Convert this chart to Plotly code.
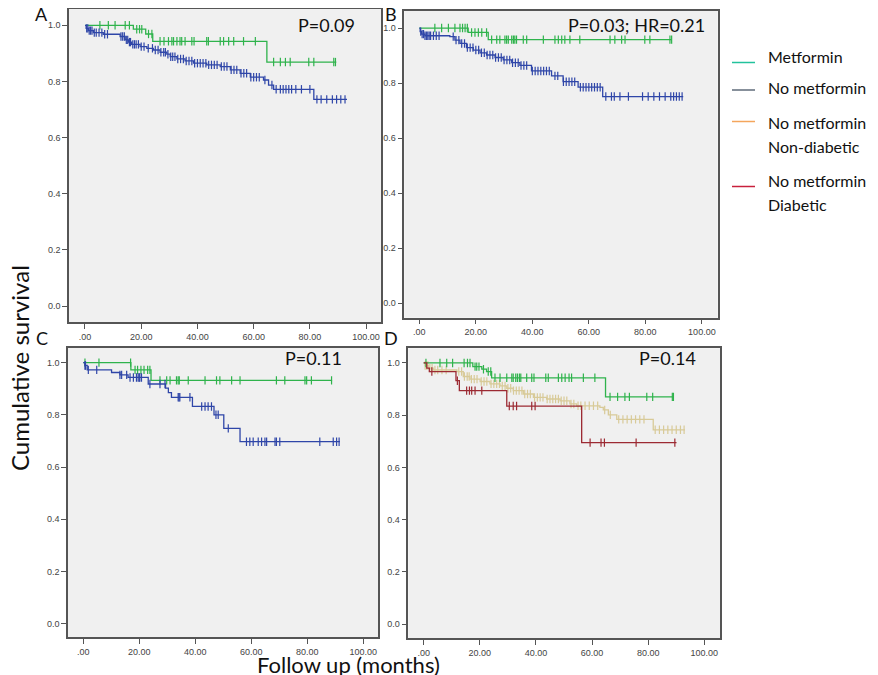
import numpy as np
import plotly.graph_objects as go

W, H = 878, 675
OFF = 8  # default page margin of the browser body
FW, FH = W - OFF, H - OFF

# ---------------- data ----------------
x_tick_vals = [0, 20, 40, 60, 80, 100]
x_tick_text = [".00", "20.00", "40.00", "60.00", "80.00", "100.00"]
y_tick_vals = [0, 0.2, 0.4, 0.6, 0.8, 1.0]
y_tick_text = ["0.0", "0.2", "0.4", "0.6", "0.8", "1.0"]

panel_letters = ["A", "B", "C", "D"]
panel_pvalues = ["P=0.09", "P=0.03; HR=0.21", "P=0.11", "P=0.14"]

legend_labels = [["Metformin"], ["No metformin"], ["No metformin", "Non-diabetic"], ["No metformin", "Diabetic"]]

# Panel A
A_met_t = [0, 17.2, 21.6, 24.1, 64.7, 89.4]
A_met_s = [1.0, 0.986, 0.969, 0.943, 0.869, 0.869]
A_met_c = [5.3, 8.3, 10.7, 14.3, 15.8, 18.4, 19.4, 20.2, 22.6, 23.8, 26.7, 28.1, 29.7, 30.9, 31.5,
           32.7, 33.8, 34.4, 35.6, 38.0, 38.8, 43.3, 43.9, 48.1, 49.3, 51.1, 52.9, 56.4, 60.6,
           67.1, 69.5, 71.3, 73.0, 79.6, 81.4, 88.5, 89.1]
A_nomet_t = [0, 0.4, 1.2, 3.0, 6.5, 12.5, 14.3, 15.5, 16.6, 19.6, 22.0, 24.3, 26.7, 29.1, 30.3, 32.7,
             35.6, 38.6, 43.3, 48.1, 51.7, 55.2, 58.8, 63.5, 65.3, 67.1, 81.4, 93.2]
A_nomet_s = [1.0, 0.989, 0.981, 0.974, 0.968, 0.960, 0.948, 0.940, 0.932, 0.924, 0.918, 0.912, 0.904,
             0.897, 0.888, 0.880, 0.873, 0.865, 0.859, 0.853, 0.841, 0.829, 0.815, 0.805, 0.787, 0.772,
             0.736, 0.736]
A_nomet_c = [0.6, 1.0, 1.5, 2.0, 2.5, 3.3, 4.0, 5.0, 6.0, 7.0, 8.0, 12.8, 13.4, 14.0, 14.7, 15.2, 15.8,
             16.2, 17.0, 17.6, 18.2, 19.0, 20.0, 21.0, 22.5, 24.0, 25.0, 26.0, 27.0, 28.0, 28.6, 29.5,
             30.5, 31.2, 32.0, 33.0, 34.0, 35.0, 36.0, 37.0, 38.0, 39.0, 40.0, 41.0, 42.0, 43.0, 44.0,
             45.0, 46.0, 47.0, 48.5, 49.5, 50.5, 52.0, 53.0, 54.0, 55.5, 56.5, 57.5, 59.0, 60.0, 61.0,
             62.0, 64.0, 66.5, 68.0, 69.5, 70.5, 71.5, 72.5, 73.5, 75.0, 77.0, 80.0, 82.5, 84.0, 86.0,
             88.0, 89.5, 91.0, 92.5]

# Panel B
B_met_t = [0, 17.3, 24.4, 89.3]
B_met_s = [1.0, 0.984, 0.958, 0.958]
B_met_c = [5.5, 7.9, 10.3, 12.6, 14.4, 15.3, 16.2, 17.0, 18.5, 19.7, 20.9, 22.1, 23.8, 25.6, 27.4,
           28.5, 30.3, 30.9, 31.5, 32.7, 33.3, 33.8, 34.4, 36.8, 38.0, 43.9, 48.0, 49.2, 50.4, 51.5,
           53.3, 56.8, 67.5, 69.2, 71.6, 72.8, 79.8, 81.6, 88.7, 89.3]
B_nomet_t = [0, 0.3, 0.8, 2.0, 10.8, 12.6, 14.4, 16.7, 19.1, 21.5, 23.8, 26.8, 29.7, 32.7, 35.6, 39.7,
             46.8, 50.9, 56.2, 64.9, 93.4]
B_nomet_s = [1.0, 0.987, 0.978, 0.972, 0.969, 0.956, 0.944, 0.929, 0.920, 0.910, 0.902, 0.893, 0.884,
             0.874, 0.864, 0.844, 0.826, 0.805, 0.785, 0.751, 0.751]
B_nomet_c = [0.5, 1.0, 1.5, 2.0, 2.5, 3.0, 3.5, 4.0, 5.0, 6.0, 7.0, 12.0, 13.0, 14.0, 15.0, 16.0, 17.0,
             18.0, 19.0, 20.0, 21.0, 22.0, 23.0, 24.0, 25.0, 26.0, 27.0, 28.0, 29.0, 30.0, 31.0, 32.0,
             33.0, 34.0, 35.0, 36.0, 37.0, 38.0, 40.0, 41.0, 42.0, 43.0, 44.0, 45.0, 46.0, 48.0, 49.0,
             51.0, 52.0, 53.0, 54.0, 55.0, 57.0, 58.0, 59.0, 60.0, 61.0, 62.0, 63.0, 64.0, 66.0, 68.0,
             69.0, 71.0, 74.0, 79.0, 81.0, 83.0, 85.0, 87.0, 89.0, 90.0, 91.0, 92.0, 93.0]

# Panel C
C_met_t = [0, 17.0, 24.2, 88.9]
C_met_s = [1.0, 0.972, 0.932, 0.932]
C_met_c = [0.6, 5.6, 16.9, 18.5, 19.4, 20.6, 21.7, 23.0, 23.8, 27.4, 29.8, 31.0, 33.3, 33.9, 34.3,
           37.5, 43.5, 47.6, 48.8, 53.0, 56.0, 69.0, 72.0, 79.2, 79.8, 81.5, 88.7]
C_nomet_t = [0, 0.6, 1.4, 10.1, 13.1, 16.0, 23.2, 29.4, 30.4, 31.5, 39.0, 46.7, 50.2, 56.0, 91.7]
C_nomet_s = [1.0, 0.989, 0.972, 0.962, 0.953, 0.943, 0.918, 0.902, 0.885, 0.867, 0.832, 0.800, 0.748,
             0.697, 0.697]
C_nomet_c = [0.6, 0.8, 1.8, 4.8, 13.1, 13.7, 15.5, 16.7, 17.9, 19.0, 19.6, 20.0, 20.2, 20.8, 23.8, 27.4,
             29.2, 33.9, 34.2, 34.5, 38.1, 42.3, 43.5, 44.6, 45.8, 47.4, 48.2, 51.8, 58.3, 59.5, 60.7,
             62.5, 63.7, 64.9, 65.5, 68.5, 69.0, 70.2, 84.5, 89.3, 90.5, 91.4]

# Panel D
D_met_t = [0, 17.5, 20.7, 22.4, 24.2, 64.8, 89.0]
D_met_s = [1.0, 0.986, 0.976, 0.967, 0.943, 0.870, 0.870]
D_met_c = [0.8, 5.8, 8.2, 10.3, 14.4, 15.6, 16.5, 18.3, 18.9, 19.7, 21.3, 23.0, 23.9, 25.4, 27.2, 29.6,
           31.4, 31.9, 32.8, 33.4, 34.1, 34.6, 36.7, 38.5, 39.3, 43.5, 44.4, 48.0, 49.2, 50.4, 51.8,
           52.7, 56.9, 61.0, 66.4, 69.1, 71.7, 73.3, 79.5, 81.6, 88.6, 89.0]
D_nondiab_t = [0, 0.5, 1.7, 3.4, 11.8, 14.1, 16.5, 20.1, 23.6, 27.2, 29.6, 31.9, 35.5, 39.1, 43.8, 48.6,
               52.1, 54.5, 62.8, 64.0, 65.8, 68.8, 81.8, 93.1]
D_nondiab_s = [1.0, 0.99, 0.98, 0.973, 0.967, 0.948, 0.938, 0.929, 0.920, 0.912, 0.903, 0.894, 0.881,
               0.868, 0.862, 0.855, 0.843, 0.836, 0.830, 0.820, 0.801, 0.784, 0.744, 0.744]
D_nondiab_c = [0.5, 1.0, 1.5, 2.2, 3.0, 4.0, 5.0, 6.5, 8.0, 12.5, 13.5, 14.5, 15.5, 16.2, 17.0, 18.0,
               19.0, 20.5, 21.5, 22.5, 24.0, 25.0, 26.0, 27.0, 28.0, 29.0, 30.0, 31.0, 32.0, 33.0, 34.0,
               35.0, 36.0, 37.0, 38.0, 39.5, 40.5, 41.5, 42.5, 44.0, 45.0, 46.0, 47.0, 48.0, 49.0, 50.0,
               51.0, 52.5, 53.5, 55.0, 56.0, 57.5, 59.0, 60.5, 62.0, 64.5, 66.5, 69.5, 71.0, 72.5, 74.0,
               75.5, 77.0, 78.5, 82.5, 84.0, 85.5, 87.0, 88.5, 90.0, 91.5, 92.8]
D_diab_t = [0, 1.1, 2.0, 11.5, 12.7, 29.6, 56.3, 90.1]
D_diab_s = [1.0, 0.98, 0.967, 0.932, 0.894, 0.835, 0.695, 0.695]
D_diab_c = [2.9, 12.0, 15.3, 16.3, 17.1, 18.3, 20.7, 30.5, 31.9, 33.1, 38.5, 39.7, 59.3, 63.2, 64.4,
            75.7, 89.5]

# ---------------- styles ----------------
GREEN = "#2fb34c"
BLUE = "#2f46a8"
TAN = "#d8ca98"
RED = "#9c2a33"
LEG_COLORS = ["#22c29c", "#5f6b7a", "#f4a65c", "#c8203c"]
FONT = "Lato"

# panel frames in page pixels: left, right, top, bottom
frames = [(69, 381, 9, 322), (404.3, 717.7, 11, 317.7), (68, 378.3, 347.7, 637.3), (408.3, 720.3, 348.3, 638.3)]
x_ranges = [[-5.69, 105.3], [-5.31, 105.6], [-5.46, 105.4], [-5.49, 105.7]]
y_ranges = [[-0.057, 1.058], [-0.053, 1.062], [-0.052, 1.057], [-0.054, 1.056]]

panels = [
    [(A_met_t, A_met_s, A_met_c, GREEN), (A_nomet_t, A_nomet_s, A_nomet_c, BLUE)],
    [(B_met_t, B_met_s, B_met_c, GREEN), (B_nomet_t, B_nomet_s, B_nomet_c, BLUE)],
    [(C_met_t, C_met_s, C_met_c, GREEN), (C_nomet_t, C_nomet_s, C_nomet_c, BLUE)],
    [(D_nondiab_t, D_nondiab_s, D_nondiab_c, TAN), (D_met_t, D_met_s, D_met_c, GREEN),
     (D_diab_t, D_diab_s, D_diab_c, RED)],
]


def px(x):
    return (x - OFF) / FW


def py(y):
    return 1 - (y - OFF) / FH


def step_at(t, s, c):
    t = np.asarray(t)
    s = np.asarray(s)
    idx = np.searchsorted(t, np.asarray(c), side="right") - 1
    return s[np.clip(idx, 0, len(s) - 1)]


fig = go.Figure()
layout = dict(width=FW, height=FH, margin=dict(l=0, r=0, t=0, b=0, pad=0), paper_bgcolor="white",
              plot_bgcolor="#f0f0f0", showlegend=False)

for i, curves in enumerate(panels):
    n = "" if i == 0 else str(i + 1)
    xa, ya = "x" + n, "y" + n
    for (t, s, c, col) in curves:
        fig.add_trace(go.Scatter(x=t, y=s, mode="lines", line=dict(color=col, width=1.3, shape="hv"),
                                 xaxis=xa, yaxis=ya, hoverinfo="skip"))
        fig.add_trace(go.Scatter(x=c, y=step_at(t, s, c), mode="markers",
                                 marker=dict(symbol="line-ns-open", size=6, color=col,
                                             line=dict(color=col, width=1.2)),
                                 xaxis=xa, yaxis=ya, hoverinfo="skip"))
    l, r, tp, b = frames[i]
    common = dict(showline=True, mirror=True, linecolor="#555555", linewidth=1.5, ticks="outside",
                  ticklen=5, tickwidth=1, tickcolor="#555555", showgrid=False, zeroline=False,
                  tickfont=dict(family="Liberation Sans, Arial", size=9, color="#444"), fixedrange=True)
    layout["xaxis" + n] = dict(common, domain=[px(l), px(r)], range=x_ranges[i], anchor=ya,
                               tickvals=x_tick_vals, ticktext=x_tick_text)
    layout["yaxis" + n] = dict(common, domain=[py(b), py(tp)], range=y_ranges[i], anchor=xa,
                               tickvals=y_tick_vals, ticktext=y_tick_text)

fig.update_layout(**layout)

ann = []
shapes = []
# panel letters
for (lx, ly), txt in zip([(41, 14), (391, 14), (42, 338), (391, 338)], panel_letters):
    ann.append(dict(x=px(lx), y=py(ly), xref="paper", yref="paper", text=txt, showarrow=False,
                    font=dict(family=FONT, size=18, color="#111"), xanchor="center", yanchor="middle"))
# p values
for (lx, ly), txt in zip([(326, 25), (636, 25), (313, 358), (667, 358)], panel_pvalues):
    ann.append(dict(x=px(lx), y=py(ly), xref="paper", yref="paper", text=txt, showarrow=False,
                    font=dict(family=FONT, size=18, color="#111"), xanchor="center", yanchor="middle"))
# axis titles
ann.append(dict(x=px(19), y=py(368), xref="paper", yref="paper", text="Cumulative survival", textangle=-90,
                showarrow=False, font=dict(family=FONT, size=24, color="#111"), xanchor="center", yanchor="middle"))
ann.append(dict(x=px(348), y=py(664), xref="paper", yref="paper", text="Follow up (months)",
                showarrow=False, font=dict(family=FONT, size=22, color="#111"), xanchor="center", yanchor="middle"))
# legend
line_y = [62.5, 90, 121.5, 186.5]
text_y = [[57], [87], [122, 147], [180, 204]]
for lines, ly, tys, col in zip(legend_labels, line_y, text_y, LEG_COLORS):
    shapes.append(dict(type="line", xref="paper", yref="paper", x0=px(732), x1=px(755), y0=py(ly), y1=py(ly),
                       line=dict(color=col, width=1.5)))
    for txt, ty in zip(lines, tys):
        ann.append(dict(x=px(766), y=py(ty), xref="paper", yref="paper", text=txt, showarrow=False,
                        font=dict(family=FONT, size=16, color="#111"), xanchor="left", yanchor="middle"))

fig.update_layout(annotations=ann, shapes=shapes)
fig.write_html("out.html")
